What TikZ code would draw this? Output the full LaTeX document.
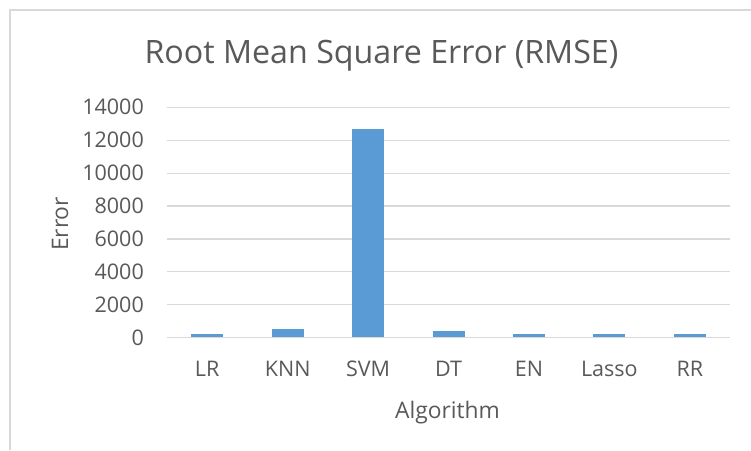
\documentclass[tikz,border=0pt]{standalone}
\usepackage{fontspec}
\setmainfont{Open Sans}
\definecolor{barblue}{HTML}{5B9BD5}
\definecolor{gridgray}{HTML}{D9D9D9}
\definecolor{txtgray}{HTML}{595959}
\begin{document}
\begin{tikzpicture}[x=1pt,y=-1pt,
  gridline/.style={draw=gridgray, line width=1.3pt},
  framestyle/.style={draw=gridgray, line width=1.5pt},
  barfill/.style={fill=barblue},
  ticklbl/.style={text=txtgray, font=\fontsize{21.5}{22}\selectfont, inner sep=0pt},
  axislbl/.style={text=txtgray, font=\fontsize{22.8}{23}\selectfont, inner sep=0pt},
  titlelbl/.style={text=txtgray, font=\fontsize{32.2}{33}\selectfont, inner sep=0pt}]
\useasboundingbox (0,0) rectangle (751,450);
% chart frame (top and left edges)
\draw[framestyle] (10,450) -- (10,10) -- (751,10);
% value axis: zero at y=337.5, 14000 at y=107.5
\def\yzero{337.5}
\def\yscale{0.0164286}
% horizontal grid lines and tick labels
\foreach \v [count=\i] in {0,2000,4000,6000,8000,10000,12000,14000}{
  \pgfmathsetmacro{\yy}{\yzero-\v*\yscale}
  \coordinate (gl\i) at (167,\yy);
  \coordinate (gr\i) at (730,\yy);
  \draw[gridline] (gl\i) -- (gr\i);
  \node[ticklbl, anchor=base east] (yt\i) at (144,\yy+7.5) {\v};
}
% bars and category labels
\foreach \name/\val [count=\i] in {LR/210,KNN/500,SVM/12690,DT/420,EN/200,Lasso/200,RR/200}{
  \pgfmathsetmacro{\cx}{167+80.43*(\i-0.5)}
  \pgfmathsetmacro{\top}{\yzero-\val*\yscale}
  \fill[barfill] (\cx-16,\yzero-0.5) rectangle (\cx+16,\top);
  \node[ticklbl, anchor=base] (xt\i) at (\cx,376) {\name};
}
% titles
\node[titlelbl, anchor=base] (title) at (381.5,63.5) {Root Mean Square Error (RMSE)};
\node[axislbl, anchor=base] (xlabel) at (447.5,418) {Algorithm};
\node[axislbl, anchor=base, rotate=90] (ylabel) at (68,224) {Error};
\end{tikzpicture}
\end{document}
